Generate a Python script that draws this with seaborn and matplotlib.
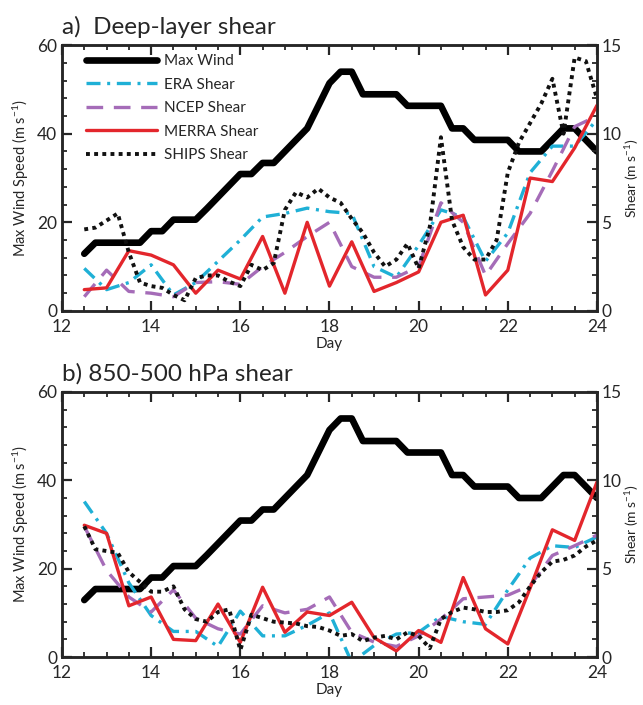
import numpy as np
import pandas as pd
import matplotlib
matplotlib.use("Agg")
import matplotlib.pyplot as plt
import seaborn as sns
from matplotlib.ticker import MultipleLocator

# ---------------- data ----------------
days6 = [12.5, 12.75, 13.0, 13.25, 13.5, 13.75, 14.0, 14.25, 14.5, 14.75,
         15.0, 15.25, 15.5, 15.75, 16.0, 16.25, 16.5, 16.75, 17.0, 17.25,
         17.5, 17.75, 18.0, 18.25, 18.5, 18.75, 19.0, 19.25, 19.5, 19.75,
         20.0, 20.25, 20.5, 20.75, 21.0, 21.25, 21.5, 21.75, 22.0, 22.25,
         22.5, 22.75, 23.0, 23.25, 23.5, 23.75, 24.0]
days12 = [12.5, 13.0, 13.5, 14.0, 14.5, 15.0, 15.5, 16.0, 16.5, 17.0, 17.5, 18.0,
          18.5, 19.0, 19.5, 20.0, 20.5, 21.0, 21.5, 22.0, 22.5, 23.0, 23.5, 24.0]

max_wind = [12.9, 15.4, 15.4, 15.4, 15.4, 15.4, 18.0, 18.0, 20.6, 20.6,
            20.6, 23.1, 25.7, 28.3, 30.9, 30.9, 33.4, 33.4, 36.0, 38.6,
            41.2, 46.3, 51.4, 54.0, 54.0, 48.9, 48.9, 48.9, 48.9, 46.3,
            46.3, 46.3, 46.3, 41.2, 41.2, 38.6, 38.6, 38.6, 38.6, 36.0,
            36.0, 36.0, 38.6, 41.2, 41.2, 38.6, 36.0]

# a) deep-layer shear
era_a = [2.4, 1.2, 1.6, 2.6, 0.9, 1.6, 2.8, 4.0, 5.3, 5.5, 5.8, 5.6,
         5.5, 2.5, 1.9, 3.7, 5.7, 5.3, 2.8, 4.4, 7.8, 9.3, 9.3, 10.8]
ncep_a = [0.8, 2.3, 1.1, 1.0, 0.8, 1.6, 1.65, 1.5, 2.5, 3.3, 4.2, 5.0,
          2.5, 1.9, 1.9, 2.5, 6.1, 5.0, 2.0, 3.8, 5.5, 7.9, 10.4, 11.0]
merra_a = [1.2, 1.3, 3.4, 3.15, 2.6, 1.0, 2.3, 1.8, 4.2, 1.0, 5.0, 1.4,
           3.9, 1.1, 1.6, 2.2, 5.0, 5.4, 0.9, 2.3, 7.5, 7.3, 9.2, 11.6]
ships_a = [4.6, 4.7, 5.1, 5.5, 3.3, 1.6, 1.4, 1.3, 0.9, 0.6,
           1.85, 2.0, 2.0, 1.65, 1.4, 2.6, 2.3, 2.7, 5.7, 6.7,
           6.4, 6.9, 6.4, 6.1, 5.2, 4.4, 3.3, 2.5, 2.9, 3.8,
           2.4, 4.75, 9.8, 5.1, 3.6, 2.9, 2.9, 4.0, 7.8, 9.5,
           10.6, 11.7, 13.1, 10.0, 14.3, 14.1, 12.0]

# b) 850-500 hPa shear
era_b = [8.8, 7.0, 4.2, 2.35, 1.45, 1.45, 0.6, 2.6, 1.2, 1.2, 1.8, 2.5,
         -0.3, 0.65, 1.3, 1.4, 2.3, 2.0, 1.85, 3.8, 5.6, 6.3, 6.2, 6.8]
ncep_b = [7.4, 4.9, 3.4, 2.55, 3.8, 2.2, 1.6, 1.3, 2.9, 2.5, 2.7, 3.4,
          1.4, 0.85, 0.6, 1.2, 2.15, 3.3, 3.4, 3.5, 4.05, 5.75, 6.3, 6.9]
merra_b = [7.46, 7.0, 2.9, 3.4, 1.0, 0.93, 3.0, 0.83, 3.95, 1.4, 2.55, 2.35,
           3.1, 1.1, 0.35, 1.5, 0.83, 4.5, 1.6, 0.74, 3.9, 7.2, 6.6, 9.9]
ships_b = [7.4, 6.1, 6.0, 5.9, 4.8, 4.25, 3.7, 3.7, 4.0, 2.7,
           2.15, 2.0, 2.55, 2.7, 0.4, 2.4, 2.2, 2.0, 1.95, 1.9,
           1.75, 1.7, 1.5, 1.2, 1.3, 0.9, 1.1, 1.2, 1.0, 1.4,
           1.2, 0.5, 2.15, 2.55, 2.8, 2.7, 2.55, 2.55, 2.65, 3.1,
           4.0, 4.8, 5.4, 5.5, 5.75, 6.25, 6.6]

titles = ["a)  Deep-layer shear", "b) 850-500 hPa shear"]
series_labels = ["Max Wind", "ERA Shear", "NCEP Shear", "MERRA Shear", "SHIPS Shear"]
xticks = [12, 14, 16, 18, 20, 22, 24]

# ---------------- style ----------------
sns.set_style("ticks")
plt.rcParams["font.family"] = ["Lato", "DejaVu Sans"]
plt.rcParams["mathtext.fontset"] = "custom"
plt.rcParams["mathtext.rm"] = "Lato"
plt.rcParams["mathtext.it"] = "Lato:italic"
plt.rcParams["mathtext.bf"] = "Lato:bold"

C_ERA = "#1fb0d6"
C_NCEP = "#a56cb8"
C_MERRA = "#e3262c"
C_SHIPS = "#111111"

fig = plt.figure(figsize=(6.43, 7.05), dpi=100)
ax_a = fig.add_axes([0.0964, 0.559, 0.832, 0.377])
ax_b = fig.add_axes([0.0964, 0.068, 0.832, 0.376])


def panel(ax, title, era, ncep, merra, ships, show_legend):
    ax2 = ax.twinx()
    sns.lineplot(x=days6, y=max_wind, ax=ax, color="black", linewidth=4.8,
                 label=series_labels[0], legend=False)
    sns.lineplot(x=days12, y=era, ax=ax2, color=C_ERA, linewidth=2.4,
                 linestyle=(0, (4.2, 2.0, 0.9, 2.0)), label=series_labels[1], legend=False)
    sns.lineplot(x=days12, y=ncep, ax=ax2, color=C_NCEP, linewidth=2.4,
                 linestyle=(0, (5.0, 3.2)), label=series_labels[2], legend=False)
    sns.lineplot(x=days12, y=merra, ax=ax2, color=C_MERRA, linewidth=2.4,
                 linestyle="-", label=series_labels[3], legend=False)
    sns.lineplot(x=days6, y=ships, ax=ax2, color=C_SHIPS, linewidth=2.8,
                 linestyle=(0, (1.0, 1.1)), label=series_labels[4], legend=False)

    ax.set_xlim(12, 24)
    ax.set_ylim(0, 60)
    ax2.set_ylim(0, 15)
    ax.set_xticks(xticks)
    ax.xaxis.set_minor_locator(MultipleLocator(0.5))
    ax.yaxis.set_major_locator(MultipleLocator(20))
    ax.yaxis.set_minor_locator(MultipleLocator(4))
    ax2.yaxis.set_major_locator(MultipleLocator(5))
    ax2.yaxis.set_minor_locator(MultipleLocator(1))

    for a in (ax, ax2):
        for s in a.spines.values():
            s.set_linewidth(1.8)
            s.set_visible(True)
    ax.tick_params(axis="x", which="major", pad=6)
    ax.tick_params(axis="both", which="major", direction="in", length=7, width=1.6,
                   labelsize=12.5, top=True, right=False)
    ax.tick_params(axis="both", which="minor", direction="in", length=3.5, width=1.3,
                   top=True, right=False)
    ax2.tick_params(axis="y", which="major", direction="in", length=7, width=1.6,
                    labelsize=12.5, pad=3)
    ax2.tick_params(axis="y", which="minor", direction="in", length=3.5, width=1.3)

    ax.set_xlabel("Day", fontsize=11, labelpad=1)
    ax.set_ylabel("Max Wind Speed (m s$^{-1}$)", fontsize=10.5, labelpad=4)
    ax2.set_ylabel("Shear (m s$^{-1}$)", fontsize=10, labelpad=1)
    ax.set_title(title, loc="left", fontsize=17.5, pad=8)

    if show_legend:
        h1, l1 = ax.get_legend_handles_labels()
        h2, l2 = ax2.get_legend_handles_labels()
        ax2.legend(h1 + h2, l1 + l2, loc="upper left", frameon=False, fontsize=11,
                   handlelength=4.7, handletextpad=0.45, labelspacing=0.62,
                   borderaxespad=0.2, bbox_to_anchor=(0.027, 1.0))
    return ax2


panel(ax_a, titles[0], era_a, ncep_a, merra_a, ships_a, True)
panel(ax_b, titles[1], era_b, ncep_b, merra_b, ships_b, False)

fig.savefig("out.png", dpi=100)
